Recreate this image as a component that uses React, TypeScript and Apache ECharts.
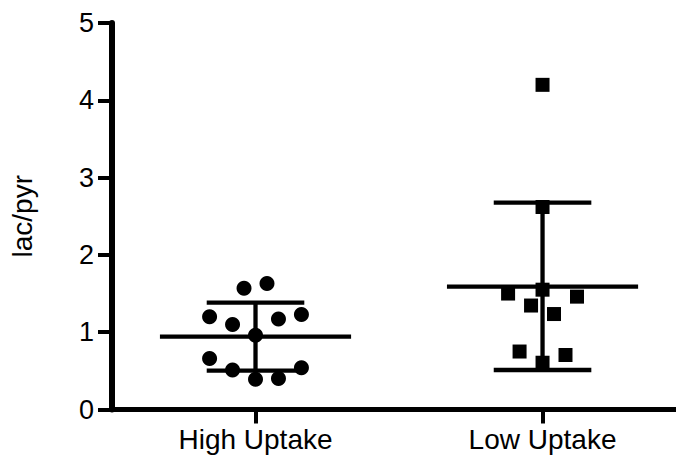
import React, { useEffect, useRef } from "react";
import * as echarts from "echarts";

const categories = ["High Uptake", "Low Uptake"];
const yTicks = [0, 1, 2, 3, 4, 5];

// x offsets (jitter, in category units) and values
const highX = [0.96, 1.04, 0.84, 0.92, 1.08, 1.16, 1.0, 0.84, 0.92, 1.0, 1.08, 1.16];
const highY = [1.57, 1.63, 1.2, 1.1, 1.17, 1.23, 0.96, 0.66, 0.51, 0.39, 0.4, 0.54];
const lowX = [2.0, 2.0, 2.0, 1.88, 2.12, 1.96, 2.04, 1.92, 2.08, 2.0];
const lowY = [4.2, 2.62, 1.55, 1.5, 1.46, 1.345, 1.235, 0.75, 0.705, 0.605];

// mean and mean±SD per group
const groupPos = [1, 2];
const groupMean = [0.942, 1.589];
const groupLow = [0.502, 0.511];
const groupHigh = [1.382, 2.675];

const FONT = "Liberation Sans, Arial, sans-serif";

export default function App() {
  const ref = useRef<HTMLDivElement>(null);
  useEffect(() => {
    document.body.style.margin = "0";
    if (!ref.current) return;
    const chart = echarts.init(ref.current, undefined, { renderer: "svg" });
    const summary = groupPos.map((p, i) => [p, groupMean[i], groupLow[i], groupHigh[i]]);
    chart.setOption({
      animation: false,
      grid: { left: 110, top: 23, right: 0, height: 386.5, containLabel: false },
      xAxis: {
        type: "value",
        min: 0.5,
        max: 2.465,
        splitLine: { show: false },
        axisLine: { show: true, onZero: false, lineStyle: { color: "#000", width: 5 } },
        axisTick: { show: true, customValues: groupPos, length: 14, lineStyle: { color: "#000", width: 4 } },
        axisLabel: {
          customValues: groupPos,
          formatter: (v: number) => categories[Math.round(v) - 1] ?? "",
          color: "#000",
          fontFamily: FONT,
          fontSize: 28,
          margin: 16,
        },
      },
      yAxis: {
        type: "value",
        min: 0,
        max: 5,
        interval: 1,
        name: "lac/pyr",
        nameLocation: "middle",
        nameGap: 76,
        nameTextStyle: { color: "#000", fontFamily: FONT, fontSize: 28 },
        splitLine: { show: false },
        axisLine: { show: true, lineStyle: { color: "#000", width: 6 } },
        axisTick: { show: true, length: 14, lineStyle: { color: "#000", width: 4 } },
        axisLabel: {
          color: "#000",
          fontFamily: FONT,
          fontSize: 27,
          margin: 18,
          customValues: yTicks,
        },
      },
      series: [
        {
          type: "custom",
          data: summary,
          z: 1,
          renderItem: (params: any, api: any) => {
            const x = api.value(0);
            const m = api.value(1);
            const lo = api.value(2);
            const hi = api.value(3);
            const mL = api.coord([x - 0.333, m]);
            const mR = api.coord([x + 0.333, m]);
            const lL = api.coord([x - 0.17, lo]);
            const lR = api.coord([x + 0.17, lo]);
            const hL = api.coord([x - 0.17, hi]);
            const hR = api.coord([x + 0.17, hi]);
            const cLo = api.coord([x, lo]);
            const cHi = api.coord([x, hi]);
            const style = { stroke: "#000", lineWidth: 4.3, fill: null };
            return {
              type: "group",
              children: [
                { type: "line", shape: { x1: mL[0], y1: mL[1], x2: mR[0], y2: mR[1] }, style },
                { type: "line", shape: { x1: lL[0], y1: lL[1], x2: lR[0], y2: lR[1] }, style },
                { type: "line", shape: { x1: hL[0], y1: hL[1], x2: hR[0], y2: hR[1] }, style },
                { type: "line", shape: { x1: cLo[0], y1: cLo[1], x2: cHi[0], y2: cHi[1] }, style },
              ],
            };
          },
        },
        {
          type: "scatter",
          name: categories[0],
          symbol: "circle",
          symbolSize: 15,
          itemStyle: { color: "#000", opacity: 1 },
          z: 2,
          data: highX.map((x, i) => [x, highY[i]]),
        },
        {
          type: "scatter",
          name: categories[1],
          symbol: "rect",
          symbolSize: 14,
          itemStyle: { color: "#000", opacity: 1 },
          z: 2,
          data: lowX.map((x, i) => [x, lowY[i]]),
        },
      ],
    });
    return () => chart.dispose();
  }, []);
  return <div ref={ref} style={{ width: 676, height: 460 }} />;
}
